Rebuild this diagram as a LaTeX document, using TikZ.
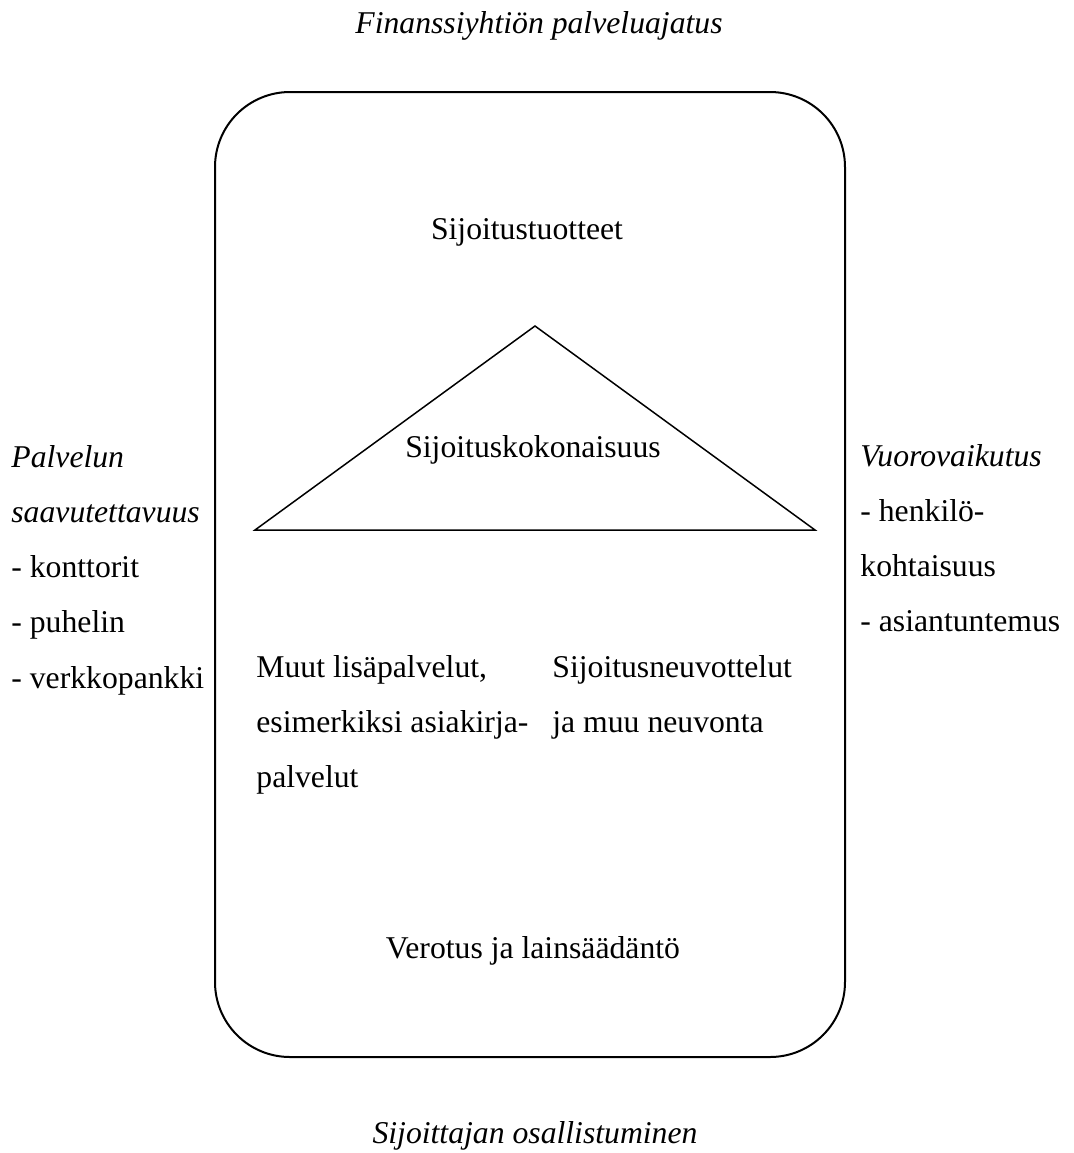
\documentclass[tikz,border=0pt]{standalone}
\usepackage{fontspec}
\setmainfont{Liberation Serif}
\begin{document}
\begin{tikzpicture}[x=0.5pt,y=-0.5pt,
    every node/.style={inner sep=0pt,font=\fontsize{15.85}{27.5}\selectfont},
    heading/.style={font=\fontsize{15.85}{27.5}\selectfont\itshape},
    line/.style={anchor=base west}]
    \useasboundingbox (0,0) rectangle (1074,1153);
    % frame and triangle
    \draw [line width=1pt,rounded corners=37.5pt] (215,92) rectangle (845,1057);
    \draw [line width=0.75pt] (535,326) -- (255,530) -- (815,530) -- cycle;
    % titles
    \node [heading,anchor=base] (palveluajatus) at (539,33) {Finanssiyhtiön palveluajatus};
    \node [heading,anchor=base] (osallistuminen) at (535,1143) {Sijoittajan osallistuminen};
    \node [anchor=base] (tuotteet) at (527,239) {Sijoitustuotteet};
    \node [anchor=base] (kokonaisuus) at (533,457) {Sijoituskokonaisuus};
    \node [anchor=base] (verotus) at (533,958) {Verotus ja lainsäädäntö};
    % left list
    \node [heading,line] (saav1) at (11,467) {Palvelun};
    \node [heading,line] (saav2) at (11,522) {saavutettavuus};
    \foreach \t [count=\i from 3] in {- konttorit,- puhelin,- verkkopankki}
        \node [line] (saav\i) at (11,{467+55.25*(\i-1)}) {\t};
    % right list
    \node [heading,line] (vuoro1) at (860,466) {Vuorovaikutus};
    \foreach \t [count=\i from 2] in {- henkilö-,kohtaisuus,- asiantuntemus}
        \node [line] (vuoro\i) at (860,{466+55.3*(\i-1)}) {\t};
    % services
    \foreach \t [count=\i] in {{Muut lisäpalvelut,},esimerkiksi asiakirja-,palvelut}
        \node [line] (muut\i) at (256,{677+55*(\i-1)}) {\t};
    \foreach \t [count=\i] in {Sijoitusneuvottelut,ja muu neuvonta}
        \node [line] (neuvonta\i) at (552,{677+55*(\i-1)}) {\t};
\end{tikzpicture}
\end{document}
